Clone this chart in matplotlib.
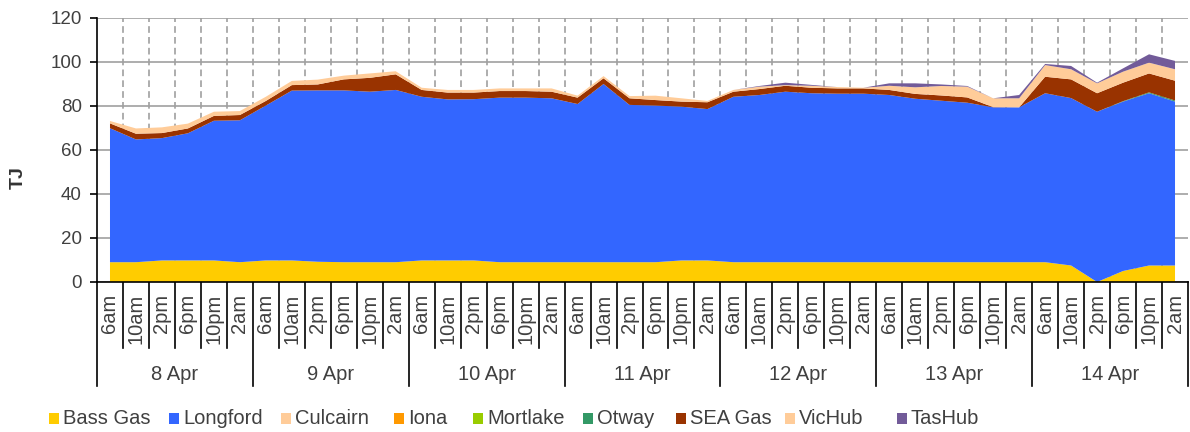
import matplotlib
matplotlib.use("Agg")
import matplotlib.pyplot as plt
from matplotlib.patches import Rectangle
from matplotlib.lines import Line2D
import numpy as np

plt.rcParams['font.family'] = ['Liberation Sans', 'DejaVu Sans']

days = ["8 Apr", "9 Apr", "10 Apr", "11 Apr", "12 Apr", "13 Apr", "14 Apr"]
hours = ["6am", "10am", "2pm", "6pm", "10pm", "2am"]

series_names = ["Bass Gas", "Longford", "Culcairn", "Iona", "Mortlake", "Otway",
                "SEA Gas", "VicHub", "TasHub"]
colors = ["#FFCC00", "#3366FF", "#FFCC99", "#FF9900", "#99CC00", "#339966",
          "#993300", "#FFCC99", "#725B99"]

bass_gas = [9, 9, 9.8, 9.8, 9.8, 9,
            9.8, 9.8, 9.2, 9, 9, 9,
            9.8, 9.8, 9.8, 9, 9, 9,
            9, 9, 9, 9, 9.8, 9.8,
            9, 9, 9, 9, 9, 9,
            9, 9, 9, 9, 9, 9,
            9, 7.5, 0, 5, 7.5, 7.5]
longford = [60.9, 55.8, 55.6, 57.8, 63.5, 64.5,
            70.4, 77.2, 77.9, 78.1, 77.5, 78.3,
            74.4, 73.2, 73.3, 74.8, 74.8, 74.5,
            71.9, 81.0, 71.5, 71.2, 69.9, 68.8,
            75.2, 76.0, 77.5, 76.8, 76.6, 76.6,
            76.0, 74.3, 73.4, 72.5, 70.4, 70.4,
            76.8, 76.1, 77.4, 77.0, 78.3, 74.5]
culcairn = [0] * 42
iona = [0] * 42
mortlake = [0] * 42
otway = [0] * 39 + [0.2, 0.4, 0.5]
sea_gas = [2.2, 2.6, 2.3, 2.2, 2.2, 2.4,
           2.1, 2.5, 2.7, 5.0, 6.3, 7.1,
           3.1, 3.1, 3.0, 3.0, 3.0, 3.0,
           2.9, 2.6, 3.0, 2.5, 2.3, 3.1,
           2.3, 2.7, 2.7, 2.5, 2.4, 2.4,
           2.3, 2.2, 2.4, 2.4, 0.1, 0.0,
           7.5, 8.5, 8.4, 8.4, 8.6, 9.0]
vichub = [1.1, 2.4, 2.6, 2.2, 1.9, 1.8,
          1.9, 1.9, 2.2, 1.7, 2.0, 1.4,
          1.0, 1.2, 1.2, 1.2, 1.2, 1.5,
          0.9, 1.0, 1.0, 2.0, 1.5, 0.6,
          0.8, 1.1, 0.3, 0.9, 0.6, 0.3,
          1.9, 3.0, 4.3, 4.9, 4.0, 4.1,
          5.3, 4.6, 4.5, 5.0, 4.9, 5.2]
tashub = [0, 0, 0, 0, 0, 0,
          0, 0, 0, 0, 0, 0,
          0, 0, 0, 0, 0, 0,
          0, 0, 0, 0, 0, 0,
          0, 0.3, 1.1, 0.4, 0, 0,
          1.1, 1.8, 0.7, 0.3, 0.0, 1.5,
          0.5, 1.5, 0.3, 1.5, 3.8, 3.8]

W, H = 1190, 432
fig = plt.figure(figsize=(W / 100, H / 100), dpi=100)
ax_l, ax_r, ax_t, ax_b = 97, 1188, 18, 282
ax = fig.add_axes([ax_l / W, 1 - ax_b / H, (ax_r - ax_l) / W, (ax_b - ax_t) / H])

n = len(days) * len(hours)
x = np.arange(n)
data = [bass_gas, longford, culcairn, iona, mortlake, otway, sea_gas, vichub, tashub]
ax.stackplot(x, *data, colors=colors, linewidth=0, zorder=3)

ax.set_xlim(-0.5, n - 0.5)
ax.set_ylim(0, 120)
ax.set_yticks(np.arange(0, 121, 20))
ax.yaxis.grid(True, color="#A0A0A0", linewidth=1.2, zorder=1)
for b in np.arange(0.5, n - 1, 1.0):
    ax.axvline(b, color="#A0A0A0", linewidth=1.2, linestyle=(0, (4, 2.5)), zorder=1)
ax.set_axisbelow(True)

for s in ["top", "right"]:
    ax.spines[s].set_visible(False)
ax.spines["left"].set_color("black")
ax.spines["bottom"].set_color("black")
ax.spines["left"].set_linewidth(1.2)
ax.spines["bottom"].set_linewidth(1.2)
ax.spines["bottom"].set_zorder(5)

ax.tick_params(axis="y", length=5, width=1.2, direction="out", pad=6,
               labelsize=13.5, labelcolor="#404040")
ax.set_xticks([])

text_color = "#404040"
trans = ax.get_xaxis_transform()
ax_h = ax_b - ax_t
# category labels
for i in range(n):
    ax.text(i, -12 / ax_h, hours[i % 6], rotation=90, ha="center", va="top",
            fontsize=14.5, color=text_color, transform=trans)
# separators
for k in range(n + 1):
    bottom = -104 / ax_h if k % 6 == 0 else -66 / ax_h
    ax.add_line(Line2D([k - 0.5, k - 0.5], [0, bottom], transform=trans,
                       color="black", linewidth=1.2, clip_on=False))
for d, day in enumerate(days):
    ax.text(d * 6 + 2.5, -93 / ax_h, day, ha="center", va="center",
            fontsize=14.5, color=text_color, transform=trans)

fig.text(18 / W, 1 - 178 / H, "TJ", rotation=90, ha="center", va="center",
         fontsize=14, fontweight="bold", color="#333333")

# legend
swatch_x = [49, 169, 281, 394, 473, 583, 676, 785, 897]
for sx, name, c in zip(swatch_x, series_names, colors):
    fig.add_artist(Rectangle((sx / W, 1 - 424 / H), 10 / W, 11 / H,
                             transform=fig.transFigure, facecolor=c, edgecolor="none"))
    fig.text((sx + 14) / W, 1 - 419 / H, name, ha="left", va="center",
             fontsize=14.5, color=text_color)

fig.savefig("out.png", dpi=100)
